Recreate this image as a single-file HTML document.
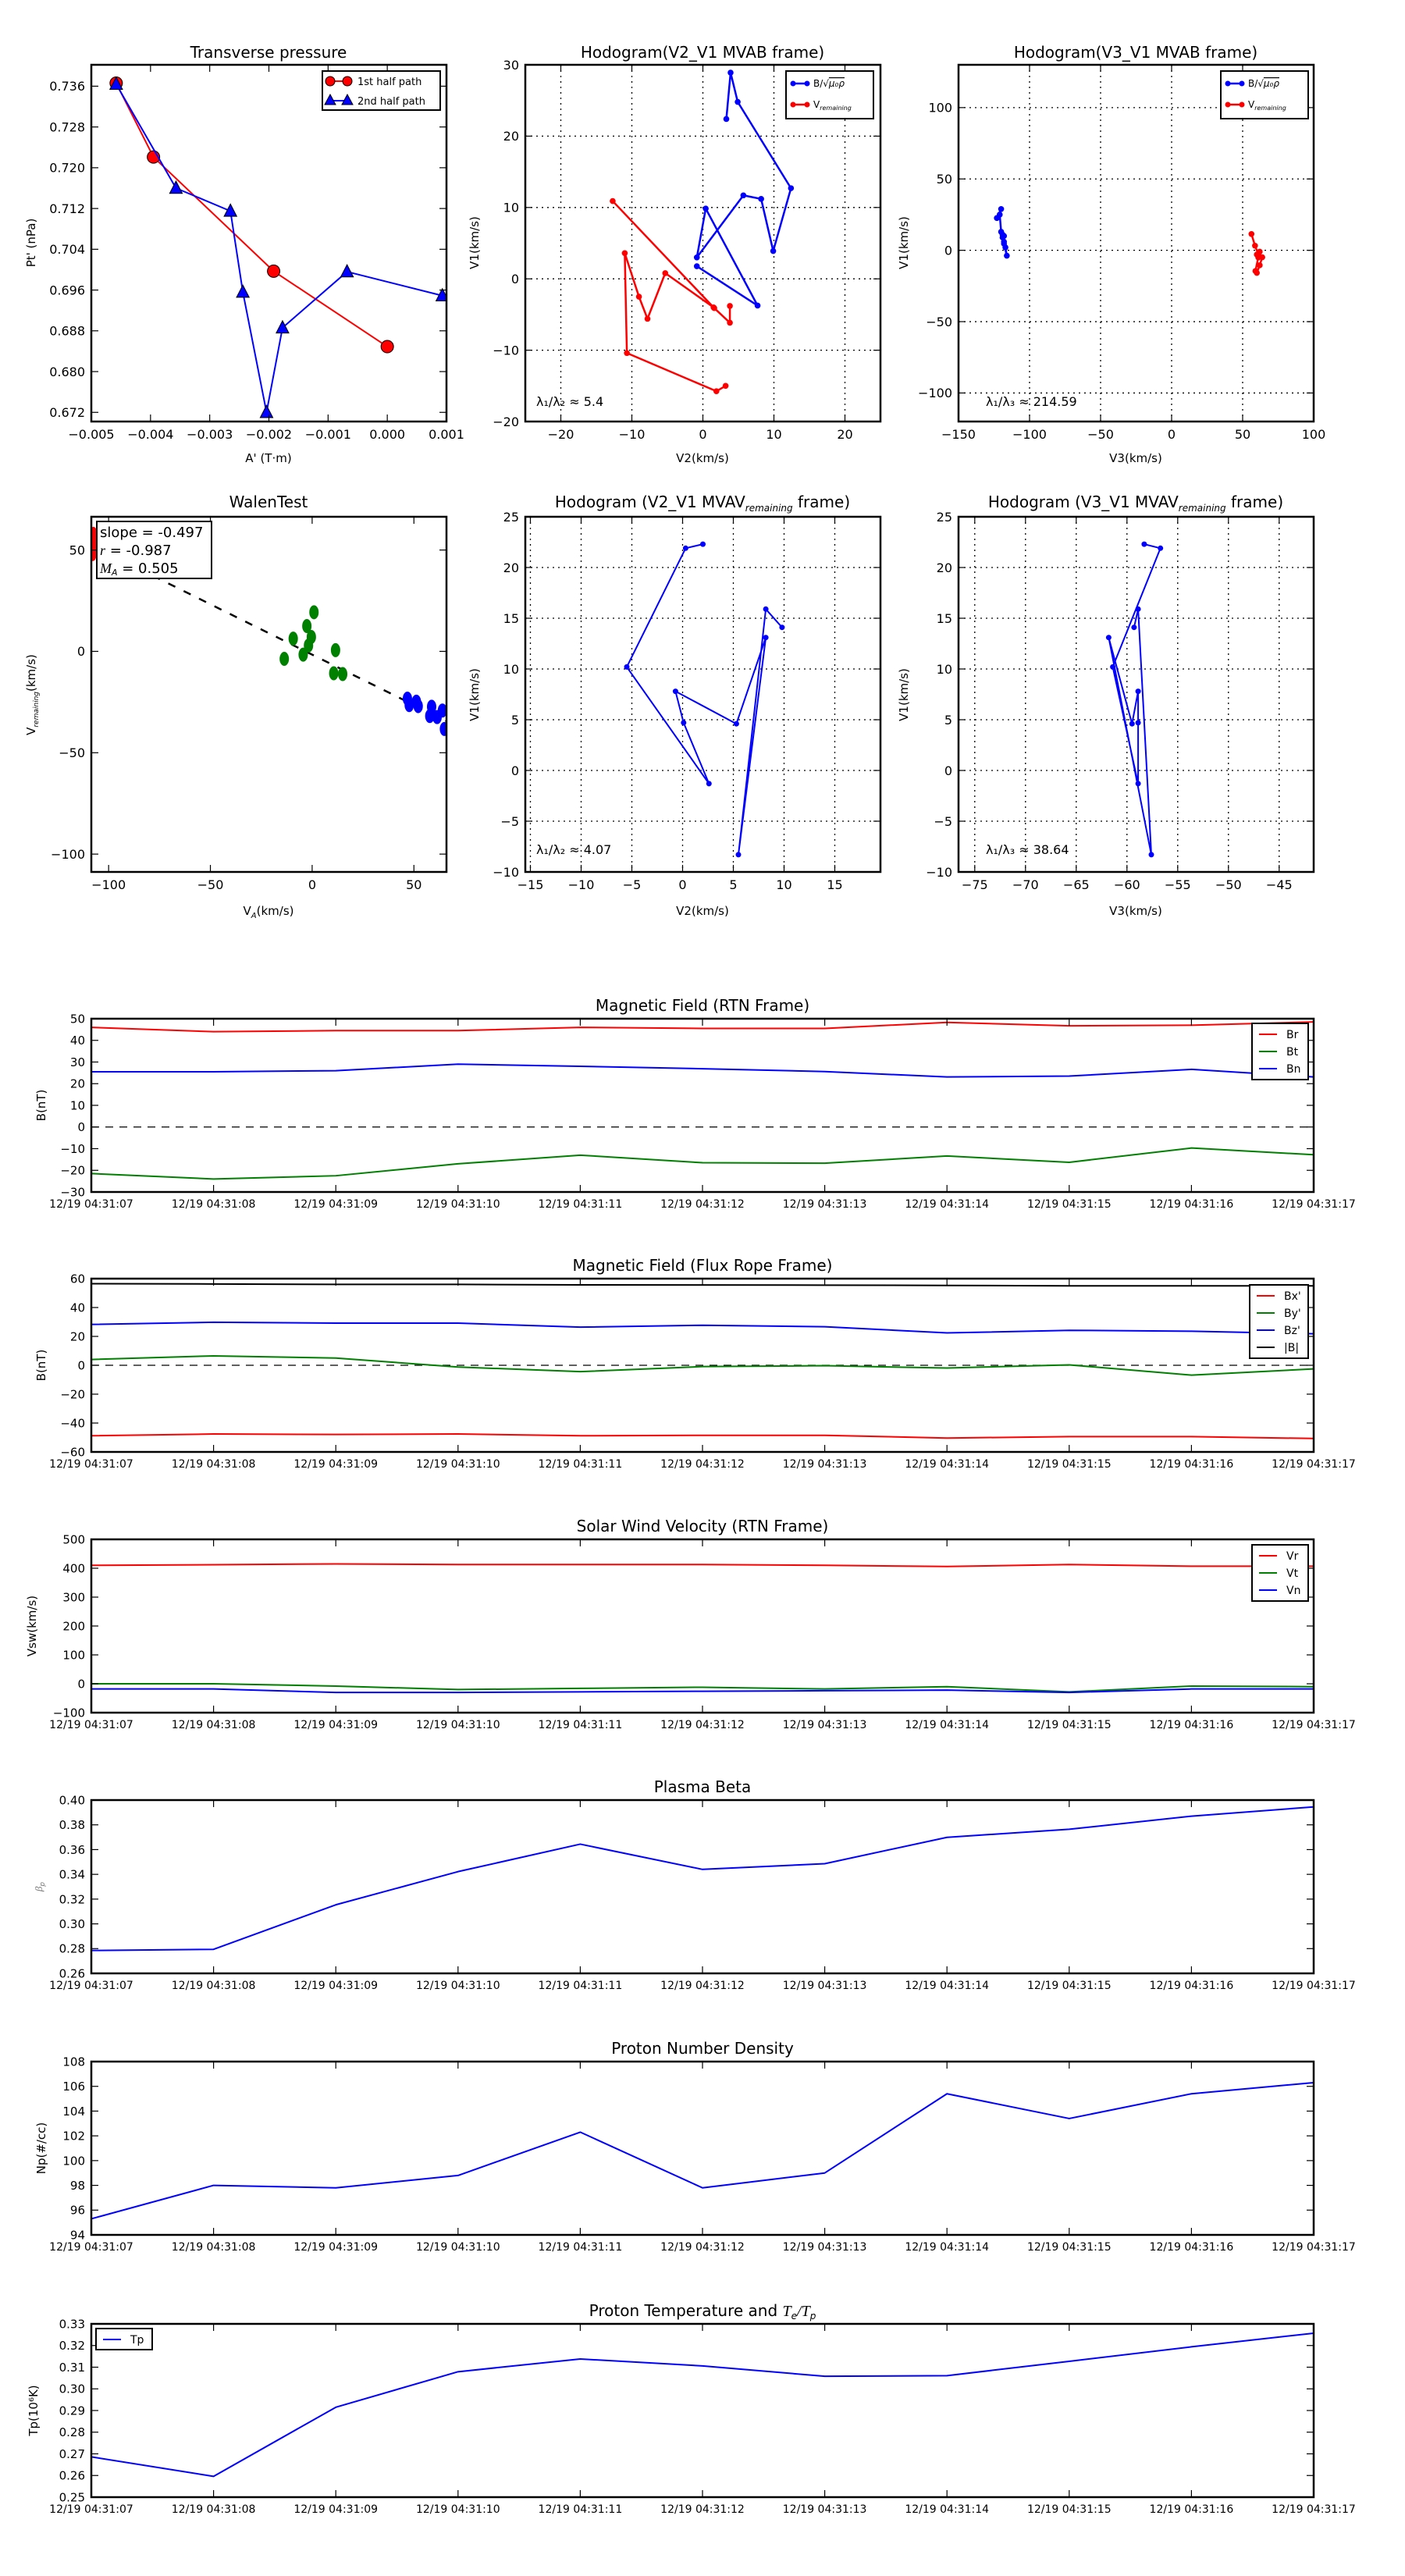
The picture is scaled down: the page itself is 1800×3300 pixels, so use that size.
<!DOCTYPE html>
<html><head><meta charset="utf-8">
<style>
html,body{margin:0;padding:0;background:#fff;}
svg{display:block;font-family:"DejaVu Sans","Liberation Sans",sans-serif;}
</style></head>
<body>
<svg id="fig" xmlns="http://www.w3.org/2000/svg" width="1800" height="3300" viewBox="0 0 1800 3300">
<rect width="1800" height="3300" fill="#fff"/>
<defs id="defs"></defs>
</svg>
<script>
// ---------- DATA ----------
// Transverse pressure
const tpA1 = [-0.00458,-0.00395,-0.00192,0.0000];
const tpP1 = [0.7366,0.7221,0.6997,0.6849];
const tpA2 = [-0.00458,-0.00357,-0.00265,-0.00244,-0.00204,-0.00177,-0.00068,0.00093];
const tpP2 = [0.7364,0.7160,0.7115,0.6956,0.6720,0.6886,0.6996,0.6949];
// Hodogram V2_V1 MVAB
const hbV2 = [3.3,3.9,4.9,12.4,9.9,8.2,5.7,-0.85,0.4,7.7,-0.85];
const hbV1 = [22.4,28.9,24.8,12.7,3.9,11.2,11.7,3.0,9.85,-3.75,1.77];
const hvV2 = [3.2,1.9,-10.7,-11.0,-9.0,-7.8,-5.3,1.5,-12.7,1.6,3.8,3.8];
const hvV1 = [-15.0,-15.75,-10.4,3.6,-2.5,-5.6,0.8,-4.0,10.9,-4.1,-6.15,-3.8];
// Hodogram V3_V1 MVAB
const hbV3 = [-123,-120,-121,-120,-119,-118,-118,-116,-117,-119,-118];
const hbV1b = [22.6,28.9,25,13,11,10,4.6,-3.8,2,9,6];
const hvV3 = [56.2,58.7,61,63.8,62,60,59,61,60,62,61];
const hvV1b = [11.4,3.2,-2.7,-4.9,-10.5,-15.8,-14.5,-5,-3,-1,-4];
// Walen test
const wRedVA = [-107.5,-107,-107.8,-106.5];
const wRedV = [58,52,48,55];
const wGreenVA = [0.9,-2.6,-0.4,-9.3,-1.8,11.5,-13.7,-4.4,10.6,15];
const wGreenV = [19.3,12.5,7.1,6.3,2.9,0.6,-3.7,-1.6,-10.8,-11.2];
const wBlueVA = [46.8,47.7,51.2,52.1,58.7,57.8,61.4,64,65];
const wBlueV = [-23.3,-26.5,-24.8,-27,-27.3,-31.9,-32.4,-29.2,-38.3];
const walenSlope = -0.497;
const walenIntercept = -1.6;
// Hodograms MVAV
const mvV2 = [2,0.3,-5.5,2.6,0.1,-0.7,5.3,8.2,5.5,8.2,9.8];
const mvV1 = [22.3,21.9,10.2,-1.3,4.7,7.8,4.6,13.1,-8.3,15.9,14.1];
const mvV3 = [-58.3,-56.7,-61.4,-58.9,-58.9,-58.9,-59.5,-61.8,-57.6,-58.9,-59.3];
// Time series
const timeLabels = ["12/19 04:31:07","12/19 04:31:08","12/19 04:31:09","12/19 04:31:10","12/19 04:31:11","12/19 04:31:12","12/19 04:31:13","12/19 04:31:14","12/19 04:31:15","12/19 04:31:16","12/19 04:31:17"];
const Br = [46,44,44.5,44.5,46,45.5,45.5,48.3,46.7,47,48.5];
const Bt = [-21.5,-24,-22.5,-17,-13,-16.5,-16.7,-13.4,-16.3,-9.7,-12.8];
const Bn = [25.5,25.5,26,29,28,26.9,25.6,23.1,23.5,26.6,23.1];
const Bx = [-48.8,-47.6,-47.9,-47.6,-48.8,-48.5,-48.5,-50.4,-49.4,-49.4,-50.7];
const By = [4,6.5,5,-1.2,-4.4,-0.9,-0.3,-1.9,0.3,-6.8,-2.5];
const Bz = [28.3,29.8,29.2,29.2,26.4,27.7,26.7,22.4,24.2,23.6,21.8];
const Bmag = [56.5,56.3,56,56,55.7,55.6,55.5,55.3,55,55,55];
const Vr = [410,412,415,413,413,413,410,406,413,407,407];
const Vt = [0,0,-8,-20,-16,-12,-18,-10,-28,-8,-10];
const Vn = [-18,-18,-30,-30,-28,-26,-24,-22,-30,-18,-18];
const beta = [0.2785,0.2794,0.3154,0.3422,0.3644,0.344,0.3486,0.3699,0.3764,0.387,0.3945];
const Np = [95.3,98.0,97.8,98.8,102.3,97.8,99.0,105.4,103.4,105.4,106.3];
const Tp = [0.2686,0.2596,0.2915,0.3079,0.3138,0.3106,0.3058,0.3061,0.3127,0.3194,0.3257];

// ---------- HELPERS ----------
const NS = 'http://www.w3.org/2000/svg';
const svg = document.getElementById('fig');
const defs = document.getElementById('defs');
function mk(tag, parent, attrs){
  const e = document.createElementNS(NS, tag);
  for (const k in attrs) e.setAttribute(k, attrs[k]);
  parent.appendChild(e);
  return e;
}
function fmtMinus(s){ return String(s).replace('-', '\u2212'); }
let clipN = 0;
function makeAxes(name, x, y, w, h, xlim, ylim){
  const g = mk('g', svg, {});
  
  
  const id = 'clip' + (clipN++);
  const cp = mk('clipPath', defs, {id: id});
  mk('rect', cp, {x: x, y: y, width: w, height: h});
  const plot = mk('g', g, {'clip-path': 'url(#' + id + ')'});
  
  
  return {g, plot, x, y, w, h,
    sx: v => x + (v - xlim[0]) / (xlim[1] - xlim[0]) * w,
    sy: v => y + h - (v - ylim[0]) / (ylim[1] - ylim[0]) * h};
}
function frame(ax, xticks, yticks, xlab, ylab, opt){
  opt = opt || {};
  const fs = opt.fs || 16;
  const xfs = opt.xfs || fs;
  if (opt.grid){
    xticks.forEach(t => {
      const ln = mk('line', ax.plot, {x1: ax.sx(t), x2: ax.sx(t), y1: ax.y, y2: ax.y + ax.h, stroke: '#000', 'stroke-width': 1.3, 'stroke-dasharray': '2,5'});
      
      
    });
    yticks.forEach(t => {
      const ln = mk('line', ax.plot, {x1: ax.x, x2: ax.x + ax.w, y1: ax.sy(t), y2: ax.sy(t), stroke: '#000', 'stroke-width': 1.3, 'stroke-dasharray': '2,5'});
      
      
    });
  }
  const tl = 9;
  xticks.forEach((t, i) => {
    const X = ax.sx(t);
    mk('line', ax.g, {x1: X, x2: X, y1: ax.y + ax.h, y2: ax.y + ax.h - tl, stroke: '#000', 'stroke-width': 1.2});
    mk('line', ax.g, {x1: X, x2: X, y1: ax.y, y2: ax.y + tl, stroke: '#000', 'stroke-width': 1.2});
    const tx = mk('text', ax.g, {x: X, y: ax.y + ax.h + xfs + 6, 'font-size': xfs, 'text-anchor': 'middle', fill: '#000'});
    
    
    tx.textContent = xlab(t, i);
  });
  yticks.forEach((t, i) => {
    const Y = ax.sy(t);
    mk('line', ax.g, {x1: ax.x, x2: ax.x + tl, y1: Y, y2: Y, stroke: '#000', 'stroke-width': 1.2});
    mk('line', ax.g, {x1: ax.x + ax.w, x2: ax.x + ax.w - tl, y1: Y, y2: Y, stroke: '#000', 'stroke-width': 1.2});
    const tx = mk('text', ax.g, {x: ax.x - 8, y: Y + fs * 0.36, 'font-size': fs, 'text-anchor': 'end', fill: '#000'});
    
    
    tx.textContent = ylab(t, i);
  });
  const r = mk('rect', ax.g, {x: ax.x, y: ax.y, width: ax.w, height: ax.h, fill: 'none', stroke: '#000', 'stroke-width': 2.5});
  
  
}
function series(ax, xs, ys, color, name, o){
  o = o || {};
  const pts = xs.map((v, i) => ax.sx(v) + ',' + ax.sy(ys[i])).join(' ');
  if (o.line !== false){
    const pl = mk('polyline', ax.plot, {points: pts, fill: 'none', stroke: color, 'stroke-width': o.lw || 2, 'stroke-linejoin': 'round'});
    
    
  }
  if (o.marker){
    xs.forEach((v, i) => {
      const X = ax.sx(v), Y = ax.sy(ys[i]);
      let m;
      if (o.marker === 'tri'){
        const s = o.ms || 8;
        m = mk('polygon', ax.plot, {points: `${X},${Y - s} ${X - s * 0.9},${Y + s * 0.75} ${X + s * 0.9},${Y + s * 0.75}`, fill: color, stroke: '#000', 'stroke-width': 1});
      } else if (o.marker === 'ell'){
        m = mk('ellipse', ax.plot, {cx: X, cy: Y, rx: o.rx, ry: o.ry, fill: color, stroke: o.edge || 'none', 'stroke-width': 1});
      } else {
        m = mk('circle', ax.plot, {cx: X, cy: Y, r: o.ms || 4, fill: color, stroke: o.edge || 'none', 'stroke-width': 1});
      }
      
      
    });
  }
}
function text(parent, x, y, str, fs, name, extra){
  const t = mk('text', parent, Object.assign({x: x, y: y, 'font-size': fs, fill: '#000'}, extra || {}));
  
  
  t.textContent = str;
  return t;
}
function vtext(parent, x, y, str, fs, name){
  return text(parent, x, y, str, fs, name, {'text-anchor': 'middle', transform: `rotate(-90 ${x} ${y})`});
}
function range(a, b, s){ const r = []; for (let v = a; v <= b + 1e-9; v += s) r.push(+v.toFixed(6)); return r; }
function legendBox(parent, x, y, w, h, name){
  const r = mk('rect', parent, {x: x, y: y, width: w, height: h, fill: '#fff', stroke: '#000', 'stroke-width': 2});
  
  
}

// ---------- ROW 1 ----------
const P = [117, 673, 1228], PW = 455;
// Transverse pressure
{
  const ax = makeAxes('transverse-pressure-chart', P[0], 83, PW, 457, [-0.005, 0.001], [0.6702, 0.7402]);
  series(ax, tpA1, tpP1, '#ff0000', 'first-half-path', {marker: 'circle', ms: 8, edge: '#000'});
  series(ax, tpA2, tpP2, '#0000ff', 'second-half-path', {marker: 'tri', ms: 9});
  frame(ax, range(-0.005, 0.001, 0.001), range(0.672, 0.736, 0.008), t => fmtMinus(t.toFixed(3)), t => t.toFixed(3), {fs: 16});
  text(ax.g, 344, 74, 'Transverse pressure', 20, 'chart-title', {'text-anchor': 'middle'});
  text(ax.g, 344, 592, "A' (T\u00b7m)", 15, 'x-axis-title', {'text-anchor': 'middle'});
  vtext(ax.g, 45, 311, "Pt' (nPa)", 15, 'y-axis-title');
  const lg = mk('g', ax.g, {});
  
  
  legendBox(lg, 413, 91, 151, 50, 'legend-box');
  mk('line', lg, {x1: 423, x2: 445, y1: 104, y2: 104, stroke: '#ff0000', 'stroke-width': 2});
  mk('circle', lg, {cx: 423, cy: 104, r: 6, fill: '#ff0000', stroke: '#000'});
  mk('circle', lg, {cx: 445, cy: 104, r: 6, fill: '#ff0000', stroke: '#000'});
  text(lg, 458, 109, '1st half path', 13, 'legend-entry-first-half');
  mk('line', lg, {x1: 423, x2: 445, y1: 129, y2: 129, stroke: '#0000ff', 'stroke-width': 2});
  mk('polygon', lg, {points: '423,121 416,134 430,134', fill: '#0000ff', stroke: '#000'});
  mk('polygon', lg, {points: '445,121 438,134 452,134', fill: '#0000ff', stroke: '#000'});
  text(lg, 458, 134, '2nd half path', 13, 'legend-entry-second-half');
}
function hodoLegend(parent, x, name){
  const lg = mk('g', parent, {});
  
  
  legendBox(lg, x, 91, 112, 61, 'legend-box');
  mk('line', lg, {x1: x + 9, x2: x + 27, y1: 107, y2: 107, stroke: '#0000ff', 'stroke-width': 2.5});
  mk('circle', lg, {cx: x + 9, cy: 107, r: 3.5, fill: '#0000ff'});
  mk('circle', lg, {cx: x + 27, cy: 107, r: 3.5, fill: '#0000ff'});
  const t1 = text(lg, x + 35, 111, 'B/\u221A', 12, 'legend-entry-b-alfven');
  const ts = mk('tspan', t1, {'font-style': 'italic', 'text-decoration': 'overline'});
  ts.textContent = '\u03bc\u2080\u03c1';
  mk('line', lg, {x1: x + 9, x2: x + 27, y1: 134, y2: 134, stroke: '#ff0000', 'stroke-width': 2.5});
  mk('circle', lg, {cx: x + 9, cy: 134, r: 3.5, fill: '#ff0000'});
  mk('circle', lg, {cx: x + 27, cy: 134, r: 3.5, fill: '#ff0000'});
  const t2 = text(lg, x + 35, 138, 'V', 12, 'legend-entry-v-remaining');
  const s2 = mk('tspan', t2, {'font-size': 8, 'font-style': 'italic', dy: 3});
  s2.textContent = 'remaining';
}
// Hodogram V2_V1 MVAB
{
  const ax = makeAxes('hodogram-v2-v1-mvab', P[1], 83, PW, 457, [-25, 25], [-20, 30]);
  frame(ax, range(-20, 20, 10), range(-20, 30, 10), t => fmtMinus(t), t => fmtMinus(t), {fs: 16, grid: true});
  series(ax, hbV2, hbV1, '#0000ff', 'b-alfven', {marker: 'circle', ms: 3.8, lw: 2.5});
  series(ax, hvV2, hvV1, '#ff0000', 'v-remaining', {marker: 'circle', ms: 3.8, lw: 2.5});
  text(ax.g, 900, 74, 'Hodogram(V2_V1 MVAB frame)', 20, 'chart-title', {'text-anchor': 'middle'});
  text(ax.g, 900, 592, 'V2(km/s)', 15, 'x-axis-title', {'text-anchor': 'middle'});
  vtext(ax.g, 613, 311, 'V1(km/s)', 15, 'y-axis-title');
  text(ax.g, 687, 520, '\u03bb\u2081/\u03bb\u2082 \u2248 5.4', 16, 'eigenvalue-ratio');
  hodoLegend(ax.g, 1007, 'legend');
}
// Hodogram V3_V1 MVAB
{
  const ax = makeAxes('hodogram-v3-v1-mvab', P[2], 83, PW, 457, [-150, 100], [-120, 130]);
  frame(ax, range(-150, 100, 50), range(-100, 100, 50), t => fmtMinus(t), t => fmtMinus(t), {fs: 16, grid: true});
  series(ax, hbV3, hbV1b, '#0000ff', 'b-alfven', {marker: 'circle', ms: 3.8, lw: 2.5});
  series(ax, hvV3, hvV1b, '#ff0000', 'v-remaining', {marker: 'circle', ms: 3.8, lw: 2.5});
  text(ax.g, 1455, 74, 'Hodogram(V3_V1 MVAB frame)', 20, 'chart-title', {'text-anchor': 'middle'});
  text(ax.g, 1455, 592, 'V3(km/s)', 15, 'x-axis-title', {'text-anchor': 'middle'});
  vtext(ax.g, 1163, 311, 'V1(km/s)', 15, 'y-axis-title');
  text(ax.g, 1263, 520, '\u03bb\u2081/\u03bb\u2083 \u2248 214.59', 16, 'eigenvalue-ratio');
  hodoLegend(ax.g, 1564, 'legend');
}

// ---------- ROW 2 ----------
{
  const ax = makeAxes('walen-test-chart', P[0], 662, PW, 455, [-108.5, 66], [-108.8, 66.4]);
  const lx = [-108.5, 66];
  const dl = mk('line', ax.plot, {x1: ax.sx(lx[0]), y1: ax.sy(walenSlope * lx[0] + walenIntercept), x2: ax.sx(lx[1]), y2: ax.sy(walenSlope * lx[1] + walenIntercept), stroke: '#000', 'stroke-width': 2.5, 'stroke-dasharray': '10,12'});
  
  
  series(ax, wRedVA, wRedV, '#ff0000', 'walen-red', {line: false, marker: 'ell', rx: 5, ry: 9});
  series(ax, wGreenVA, wGreenV, '#008000', 'walen-green', {line: false, marker: 'ell', rx: 6, ry: 9});
  series(ax, wBlueVA, wBlueV, '#0000ff', 'walen-blue', {line: false, marker: 'ell', rx: 6, ry: 9});
  frame(ax, [-100, -50, 0, 50], [-100, -50, 0, 50], t => fmtMinus(t), t => fmtMinus(t), {fs: 16});
  text(ax.g, 344, 650, 'WalenTest', 20, 'chart-title', {'text-anchor': 'middle'});
  const xl = text(ax.g, 344, 1172, 'V', 15, 'x-axis-title', {'text-anchor': 'middle'});
  const xs = mk('tspan', xl, {'font-size': 10, 'font-style': 'italic', dy: 4}); xs.textContent = 'A';
  const xs2 = mk('tspan', xl, {dy: -4}); xs2.textContent = '(km/s)';
  const yl = vtext(ax.g, 45, 890, 'V', 15, 'y-axis-title');
  const ys = mk('tspan', yl, {'font-size': 9, 'font-style': 'italic', dy: 4}); ys.textContent = 'remaining';
  const ys2 = mk('tspan', yl, {dy: -4}); ys2.textContent = '(km/s)';
  const bx = mk('g', ax.g, {});
  
  
  legendBox(bx, 124, 668, 147, 73, 'stats-box');
  text(bx, 128, 688, 'slope = -0.497', 18, 'slope-value');
  const t2 = text(bx, 128, 711, '', 18, 'r-value');
  const ti = mk('tspan', t2, {'font-style': 'italic', 'font-family': 'Liberation Serif, serif'}); ti.textContent = 'r';
  const tr = mk('tspan', t2, {}); tr.textContent = ' = -0.987';
  const t3 = text(bx, 128, 734, '', 18, 'ma-value');
  const m1 = mk('tspan', t3, {'font-style': 'italic', 'font-family': 'Liberation Serif, serif'}); m1.textContent = 'M';
  const m2 = mk('tspan', t3, {'font-style': 'italic', 'font-size': 11, dy: 3}); m2.textContent = 'A';
  const m3 = mk('tspan', t3, {dy: -3}); m3.textContent = ' = 0.505';
}
function mvavTitle(parent, cx, label){
  const t = text(parent, cx, 650, 'Hodogram (' + label + ' MVAV', 20, 'chart-title', {'text-anchor': 'middle'});
  const s = mk('tspan', t, {'font-size': 12, 'font-style': 'italic', dy: 5}); s.textContent = 'remaining';
  const s2 = mk('tspan', t, {dy: -5}); s2.textContent = ' frame)';
}
{
  const ax = makeAxes('hodogram-v2-v1-mvav', P[1], 662, PW, 455, [-15.5, 19.5], [-10, 25]);
  frame(ax, range(-15, 15, 5), range(-10, 25, 5), t => fmtMinus(t), t => fmtMinus(t), {fs: 16, grid: true});
  series(ax, mvV2, mvV1, '#0000ff', 'b-alfven', {marker: 'circle', ms: 3.5, lw: 2});
  mvavTitle(ax.g, 900, 'V2_V1');
  text(ax.g, 900, 1172, 'V2(km/s)', 15, 'x-axis-title', {'text-anchor': 'middle'});
  vtext(ax.g, 613, 890, 'V1(km/s)', 15, 'y-axis-title');
  text(ax.g, 687, 1094, '\u03bb\u2081/\u03bb\u2082 \u2248 4.07', 16, 'eigenvalue-ratio');
}
{
  const ax = makeAxes('hodogram-v3-v1-mvav', P[2], 662, PW, 455, [-76.6, -41.6], [-10, 25]);
  frame(ax, range(-75, -45, 5), range(-10, 25, 5), t => fmtMinus(t), t => fmtMinus(t), {fs: 16, grid: true});
  series(ax, mvV3, mvV1, '#0000ff', 'b-alfven', {marker: 'circle', ms: 3.5, lw: 2});
  mvavTitle(ax.g, 1455, 'V3_V1');
  text(ax.g, 1455, 1172, 'V3(km/s)', 15, 'x-axis-title', {'text-anchor': 'middle'});
  vtext(ax.g, 1163, 890, 'V1(km/s)', 15, 'y-axis-title');
  text(ax.g, 1263, 1094, '\u03bb\u2081/\u03bb\u2083 \u2248 38.64', 16, 'eigenvalue-ratio');
}

// ---------- TIME SERIES ----------
const idx = timeLabels.map((_, i) => i);
function tsPanel(cfg){
  const ax = makeAxes(cfg.name, 117, cfg.top, 1566, 222, [0, 10], cfg.ylim);
  if (cfg.zero){
    const z = mk('line', ax.plot, {x1: ax.x, x2: ax.x + ax.w, y1: ax.sy(0), y2: ax.sy(0), stroke: '#000', 'stroke-width': 1.3, 'stroke-dasharray': '10,8'});
    
    
  }
  cfg.series.forEach(s => series(ax, idx, s[0], s[1], s[2], {lw: 2}));
  frame(ax, idx, cfg.yticks, (t, i) => timeLabels[i], cfg.yfmt, {fs: 15, xfs: 14});
  const tt = text(ax.g, 900, cfg.top - 10, cfg.title, 20, 'chart-title', {'text-anchor': 'middle'});
  if (cfg.titleExtra) cfg.titleExtra(tt);
  const yl = vtext(ax.g, cfg.ylx, cfg.top + 111, cfg.ylabel, 15, 'y-axis-title');
  if (cfg.ylExtra) cfg.ylExtra(yl);
  if (cfg.legend){
    const L = cfg.legend;
    const lg = mk('g', ax.g, {});
    
    
    legendBox(lg, L.x, L.y, L.w, L.h, 'legend-box');
    L.items.forEach((it, i) => {
      const yy = L.y + 14 + i * 22;
      mk('line', lg, {x1: L.x + 9, x2: L.x + 32, y1: yy, y2: yy, stroke: it[1], 'stroke-width': 2});
      text(lg, L.x + 44, yy + 5, it[0], 14, 'legend-entry-' + it[0].replace(/[^A-Za-z]/g, '').toLowerCase());
    });
  }
}
tsPanel({name: 'magnetic-field-rtn-chart', title: 'Magnetic Field (RTN Frame)', top: 1305, ylim: [-30, 50], yticks: range(-30, 50, 10), yfmt: t => fmtMinus(t), ylabel: 'B(nT)', ylx: 58, zero: true,
  series: [[Br, '#ff0000', 'br'], [Bt, '#008000', 'bt'], [Bn, '#0000ff', 'bn']],
  legend: {x: 1604, y: 1311, w: 72, h: 72, items: [['Br', '#ff0000'], ['Bt', '#008000'], ['Bn', '#0000ff']]}});
tsPanel({name: 'magnetic-field-flux-rope-chart', title: 'Magnetic Field (Flux Rope Frame)', top: 1638, ylim: [-60, 60], yticks: range(-60, 60, 20), yfmt: t => fmtMinus(t), ylabel: 'B(nT)', ylx: 58, zero: true,
  series: [[Bx, '#ff0000', 'bx'], [By, '#008000', 'by'], [Bz, '#0000ff', 'bz'], [Bmag, '#000000', 'bmag']],
  legend: {x: 1601, y: 1646, w: 75, h: 94, items: [["Bx'", '#ff0000'], ["By'", '#008000'], ["Bz'", '#0000ff'], ['|B|', '#000000']]}});
tsPanel({name: 'solar-wind-velocity-chart', title: 'Solar Wind Velocity (RTN Frame)', top: 1972, ylim: [-100, 500], yticks: range(-100, 500, 100), yfmt: t => fmtMinus(t), ylabel: 'Vsw(km/s)', ylx: 46,
  series: [[Vr, '#ff0000', 'vr'], [Vt, '#008000', 'vt'], [Vn, '#0000ff', 'vn']],
  legend: {x: 1604, y: 1979, w: 72, h: 72, items: [['Vr', '#ff0000'], ['Vt', '#008000'], ['Vn', '#0000ff']]}});
tsPanel({name: 'plasma-beta-chart', title: 'Plasma Beta', top: 2306, ylim: [0.26, 0.40], yticks: range(0.26, 0.40, 0.02), yfmt: t => t.toFixed(2), ylabel: '', ylx: 54,
  series: [[beta, '#0000ff', 'beta']],
  ylExtra: yl => { const s = mk('tspan', yl, {'font-style': 'italic', fill: '#777', 'font-size': 13, 'font-family': 'Liberation Serif, serif'}); s.textContent = '\u03b2'; const s2 = mk('tspan', yl, {'font-style': 'italic', fill: '#777', 'font-size': 9, dy: 3}); s2.textContent = 'p'; }});
tsPanel({name: 'proton-density-chart', title: 'Proton Number Density', top: 2641, ylim: [94, 108], yticks: range(94, 108, 2), yfmt: t => String(t), ylabel: 'Np(#/cc)', ylx: 58,
  series: [[Np, '#0000ff', 'np']]});
tsPanel({name: 'proton-temperature-chart', title: 'Proton Temperature and ', top: 2977, ylim: [0.25, 0.33], yticks: range(0.25, 0.33, 0.01), yfmt: t => t.toFixed(2), ylabel: 'Tp(10\u2076K)', ylx: 48,
  series: [[Tp, '#0000ff', 'tp']],
  titleExtra: t => { const a = mk('tspan', t, {'font-style': 'italic', 'font-family': 'Liberation Serif, serif'}); a.textContent = 'T'; const b = mk('tspan', t, {'font-style': 'italic', 'font-size': 12, dy: 4}); b.textContent = 'e'; const c = mk('tspan', t, {dy: -4, 'font-style': 'italic', 'font-family': 'Liberation Serif, serif'}); c.textContent = '/T'; const d = mk('tspan', t, {'font-style': 'italic', 'font-size': 12, dy: 4}); d.textContent = 'p'; },
  legend: {x: 123, y: 2983, w: 72, h: 27, items: [['Tp', '#0000ff']]}});
</script>
</body></html>
